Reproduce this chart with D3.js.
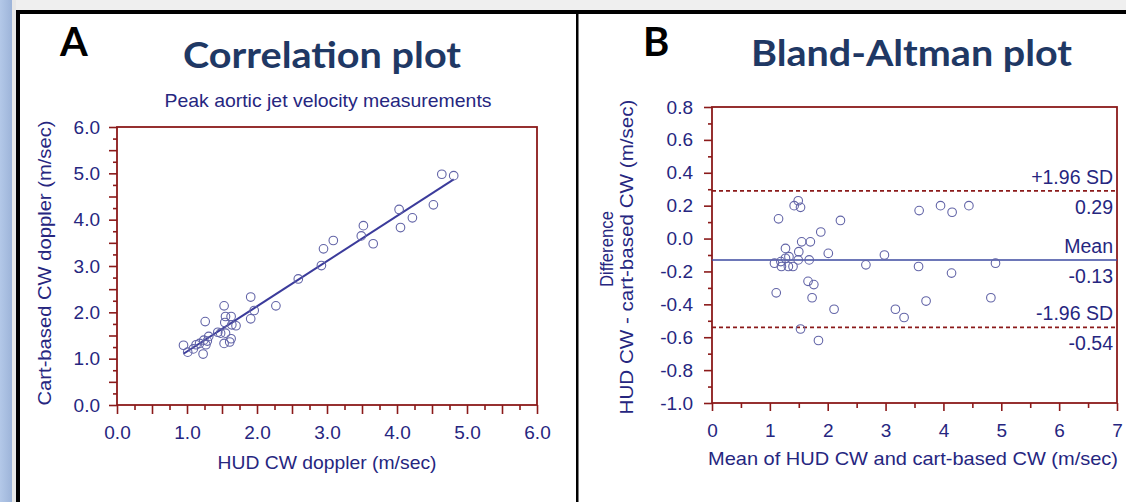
<!DOCTYPE html>
<html>
<head>
<meta charset="utf-8">
<script src="https://cdn.jsdelivr.net/npm/d3@7"></script>
<style>
  html, body { margin: 0; padding: 0; background: #fff; }
  svg { display: block; }
  text { font-family: "Liberation Sans", Arial, sans-serif; }
</style>
</head>
<body>
<script>
const width = 1126;
const height = 502;

const navy = "#26267f";
const titleColor = "#1f3864";
const frameColor = "#8b1a1a";
const pointColor = "#6264a7";
const lineColor = "#3b3b9b";

// panel A: correlation (HUD CW vs cart-based CW, m/sec)
const hudCW = [0.95, 1.01, 1.09, 1.13, 1.18, 1.23, 1.24, 1.26, 1.27, 1.29,
  1.31, 1.44, 1.48, 1.53, 1.55, 1.54, 1.55, 1.53, 1.61, 1.63,
  1.63, 1.64, 1.70, 1.91, 1.91, 1.96, 2.27, 2.59, 2.92, 2.95,
  3.09, 3.49, 3.52, 3.66, 4.03, 4.05, 4.22, 4.52, 4.64, 4.81];
const cartCW = [1.29, 1.14, 1.21, 1.30, 1.33, 1.10, 1.40, 1.80, 1.30, 1.38,
  1.48, 1.57, 1.55, 2.14, 1.91, 1.78, 1.55, 1.33, 1.36, 1.43,
  1.91, 1.73, 1.71, 2.33, 1.86, 2.04, 2.14, 2.72, 3.01, 3.37,
  3.55, 3.65, 3.87, 3.48, 4.22, 3.83, 4.04, 4.32, 4.98, 4.95];
const fitIntercept = 0.18;
const fitSlope = 0.975;
const ticksA = [0, 1, 2, 3, 4, 5, 6];

// panel B: Bland-Altman
const baMean = [1.15, 1.11, 1.08, 1.20, 1.19, 1.27, 1.27, 1.32, 1.33, 1.40,
  1.42, 1.49, 1.53, 1.50, 1.49, 1.55, 1.53, 1.70, 1.68, 1.66,
  1.76, 1.73, 1.88, 1.84, 2.01, 2.11, 2.22, 2.66, 2.98, 3.17,
  3.32, 3.58, 3.57, 3.70, 3.95, 4.15, 4.14, 4.44, 4.82, 4.90];
const baDiff = [0.12, -0.33, -0.15, -0.17, -0.14, -0.06, -0.12, -0.17, -0.11, -0.17,
  0.20, 0.23, 0.19, -0.08, -0.13, -0.02, -0.55, -0.02, -0.13, -0.26,
  -0.28, -0.36, 0.04, -0.62, -0.09, -0.43, 0.11, -0.16, -0.10, -0.43,
  -0.48, 0.17, -0.17, -0.38, 0.20, 0.16, -0.21, 0.20, -0.36, -0.15];
const limitLabels = ["+1.96 SD", "Mean", "-1.96 SD"];
const limitValues = [0.29, -0.13, -0.54];
const ticksBx = [0, 1, 2, 3, 4, 5, 6, 7];
const ticksBy = [-1.0, -0.8, -0.6, -0.4, -0.2, 0.0, 0.2, 0.4, 0.6, 0.8];

const svg = d3.select("body").append("svg")
  .attr("width", width)
  .attr("height", height);

// slide background / frame
svg.append("rect").attr("width", width).attr("height", height).attr("fill", "#fff");
svg.append("rect").attr("x", 0).attr("y", 0).attr("width", width).attr("height", 10).attr("fill", "#efefef");
svg.append("rect").attr("x", 12).attr("y", 0).attr("width", 4).attr("height", height).attr("fill", "#e8e8e8");
const grad = svg.append("defs").append("linearGradient").attr("id", "side");
grad.append("stop").attr("offset", "0%").attr("stop-color", "#b3c8e8");
grad.append("stop").attr("offset", "100%").attr("stop-color", "#9db4d9");
svg.append("rect").attr("x", 0).attr("y", 0).attr("width", 12).attr("height", height).attr("fill", "url(#side)");
svg.append("rect").attr("x", 16).attr("y", 10).attr("width", width - 16).attr("height", 4).attr("fill", "#000");
svg.append("rect").attr("x", 16).attr("y", 10).attr("width", 4).attr("height", height - 10).attr("fill", "#000");
svg.append("rect").attr("x", 576).attr("y", 12).attr("width", 2.5).attr("height", height - 12).attr("fill", "#000");

// panel letters and titles
svg.append("text").attr("x", 60).attr("y", 56).text("A")
  .style("font-family", "Lato, sans-serif").attr("font-weight", 700).attr("font-size", 40).attr("fill", "#000");
svg.append("text").attr("x", 643).attr("y", 56).text("B")
  .style("font-family", "Lato, sans-serif").attr("font-weight", 700).attr("font-size", 40).attr("fill", "#000");

function title(x, y, str, len) {
  svg.append("text").attr("x", x).attr("y", y).text(str)
    .style("font-family", "Lato, sans-serif")
    .attr("font-weight", 700).attr("font-size", 37)
    .attr("fill", titleColor)
    .attr("textLength", len).attr("lengthAdjust", "spacingAndGlyphs");
}
title(183, 68, "Correlation plot", 278);
title(751, 66, "Bland-Altman plot", 321);

function label(x, y, str, len, rotate, size) {
  const t = svg.append("text")
    .attr("font-size", size || 19).attr("fill", navy)
    .attr("text-anchor", "middle")
    .text(str);
  if (rotate) t.attr("transform", `translate(${x},${y}) rotate(-90)`);
  else t.attr("x", x).attr("y", y);
  if (len) t.attr("textLength", len).attr("lengthAdjust", "spacingAndGlyphs");
  return t;
}

function styleAxis(g) {
  g.select(".domain").remove();
  g.selectAll("line").attr("stroke", frameColor).attr("stroke-width", 1.6);
  g.selectAll("text").attr("fill", navy).attr("font-size", 19)
    .style("font-family", "'Liberation Sans', Arial, sans-serif");
}

// ---------- panel A ----------
const xA = d3.scaleLinear().domain([0, 6]).range([117, 537]);
const yA = d3.scaleLinear().domain([0, 6]).range([405, 127]);

label(328, 107, "Peak aortic jet velocity measurements", 327, false, 18.5);

svg.append("g").attr("transform", "translate(0,405)")
  .call(d3.axisBottom(xA).tickValues(d3.range(1, 24, 2).map(i => i / 4)).tickSize(5).tickFormat(""))
  .call(styleAxis);
svg.append("g").attr("transform", "translate(0,405)")
  .call(d3.axisBottom(xA).tickValues(d3.range(0, 13).map(i => i / 2)).tickSize(9).tickPadding(12)
    .tickFormat(d => ticksA.includes(d) ? d.toFixed(1) : ""))
  .call(styleAxis);
svg.append("g").attr("transform", "translate(117,0)")
  .call(d3.axisLeft(yA).tickValues(d3.range(1, 24, 2).map(i => i / 4)).tickSize(4).tickFormat(""))
  .call(styleAxis);
svg.append("g").attr("transform", "translate(117,0)")
  .call(d3.axisLeft(yA).tickValues(d3.range(0, 13).map(i => i / 2)).tickSize(8).tickPadding(9)
    .tickFormat(d => ticksA.includes(d) ? d.toFixed(1) : ""))
  .call(styleAxis);

svg.append("rect")
  .attr("x", xA(0)).attr("y", yA(6))
  .attr("width", xA(6) - xA(0)).attr("height", yA(0) - yA(6))
  .attr("fill", "none").attr("stroke", frameColor).attr("stroke-width", 1.8);

const fitX = d3.extent(hudCW);
svg.append("line")
  .attr("x1", xA(fitX[0])).attr("y1", yA(fitIntercept + fitSlope * fitX[0]))
  .attr("x2", xA(fitX[1])).attr("y2", yA(fitIntercept + fitSlope * fitX[1]))
  .attr("stroke", lineColor).attr("stroke-width", 2);

svg.append("g").selectAll("circle")
  .data(hudCW)
  .join("circle")
  .attr("cx", d => xA(d))
  .attr("cy", (d, i) => yA(cartCW[i]))
  .attr("r", 4.3)
  .attr("fill", "none")
  .attr("stroke", pointColor)
  .attr("stroke-width", 1.1);

label(327, 469, "HUD CW doppler (m/sec)", 219);
label(51, 263, "Cart-based CW doppler (m/sec)", 285, true);

// ---------- panel B ----------
const xB = d3.scaleLinear().domain([0, 7]).range([712, 1117]);
const yB = d3.scaleLinear().domain([-1, 0.8]).range([403, 107]);

svg.append("g").attr("transform", "translate(0,403)")
  .call(d3.axisBottom(xB).tickValues(d3.range(1, 14, 2).map(i => i / 2)).tickSize(5).tickFormat(""))
  .call(styleAxis);
svg.append("g").attr("transform", "translate(0,403)")
  .call(d3.axisBottom(xB).tickValues(ticksBx).tickSize(8).tickPadding(13).tickFormat(d => String(d)))
  .call(styleAxis);
svg.append("g").attr("transform", "translate(712,0)")
  .call(d3.axisLeft(yB).tickValues(d3.range(-9, 8, 2).map(i => i / 10)).tickSize(4).tickFormat(""))
  .call(styleAxis);
svg.append("g").attr("transform", "translate(712,0)")
  .call(d3.axisLeft(yB).tickValues(ticksBy).tickSize(8).tickPadding(11).tickFormat(d => d.toFixed(1)))
  .call(styleAxis);

svg.append("rect")
  .attr("x", xB(0)).attr("y", yB(0.8))
  .attr("width", xB(7) - xB(0)).attr("height", yB(-1) - yB(0.8))
  .attr("fill", "none").attr("stroke", frameColor).attr("stroke-width", 1.8);

const limits = svg.append("g").selectAll("g")
  .data(limitValues)
  .join("g");
limits.append("line")
  .attr("x1", xB(0)).attr("x2", xB(7))
  .attr("y1", d => yB(d)).attr("y2", d => yB(d))
  .attr("stroke", (d, i) => i === 1 ? "#3d4aa0" : frameColor)
  .attr("stroke-width", 1.6)
  .attr("stroke-dasharray", (d, i) => i === 1 ? null : "4,3");
limits.append("text")
  .attr("x", xB(7) - 4).attr("y", d => yB(d) - 7)
  .attr("text-anchor", "end").attr("font-size", 19.5).attr("fill", navy)
  .text((d, i) => limitLabels[i]);
limits.append("text")
  .attr("x", xB(7) - 4).attr("y", d => yB(d) + 23)
  .attr("text-anchor", "end").attr("font-size", 19.5).attr("fill", navy)
  .text(d => d.toFixed(2));

svg.append("g").selectAll("circle")
  .data(baMean)
  .join("circle")
  .attr("cx", d => xB(d))
  .attr("cy", (d, i) => yB(baDiff[i]))
  .attr("r", 4.3)
  .attr("fill", "none")
  .attr("stroke", pointColor)
  .attr("stroke-width", 1.1);

label(913, 465, "Mean of HUD CW and cart-based CW (m/sec)", 410);
label(613, 249, "Difference", 76, true);
label(633, 257, "HUD CW - cart-based CW (m/sec)", 315, true);
</script>
</body>
</html>
